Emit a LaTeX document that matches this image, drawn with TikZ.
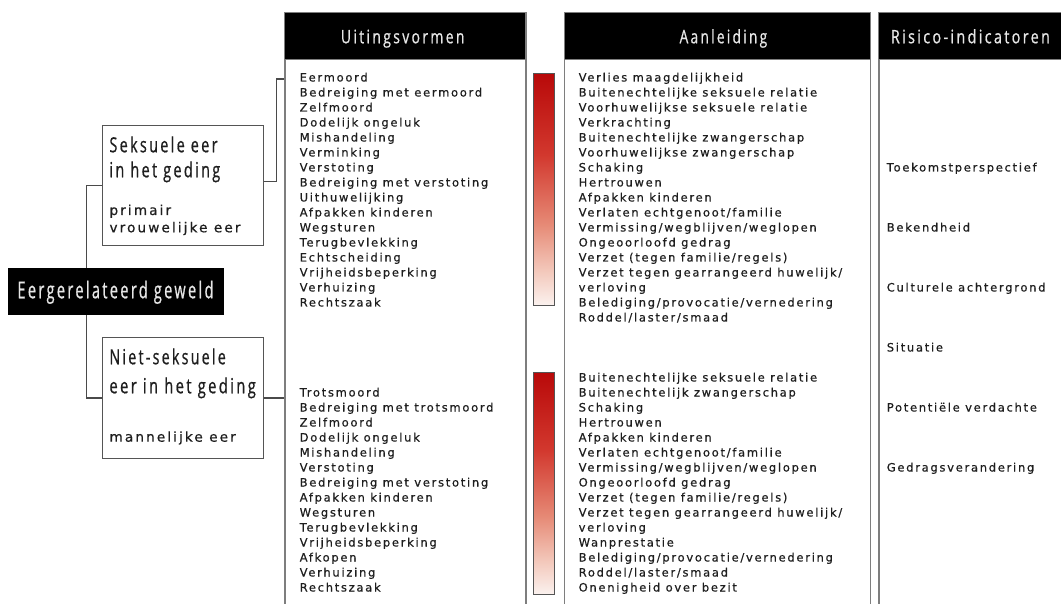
\documentclass[tikz,border=0pt]{standalone}
\usepackage{fontspec}
\usepackage{graphicx}
\newfontfamily\bodyfont[LetterSpace=15,FakeBold=0.5]{DejaVu Sans}
\newfontfamily\hdrfont[FakeStretch=0.55,LetterSpace=9,FakeBold=0.6]{Open Sans}
\definecolor{colgray}{HTML}{7E7E7E}
\definecolor{conngray}{HTML}{4A4A4A}
\definecolor{boxgray}{HTML}{555555}
\definecolor{txt}{HTML}{1E1E1E}
\definecolor{hdrtxt}{HTML}{E6E6E6}
\definecolor{barC0}{HTML}{FBF2EF}
\definecolor{barC1}{HTML}{F3C8BB}
\definecolor{barC2}{HTML}{E68A76}
\definecolor{barC3}{HTML}{D2382E}
\definecolor{barC4}{HTML}{B80909}
\pgfdeclareverticalshading{redbar}{100bp}{color(0bp)=(barC0); color(25bp)=(barC0); color(32.5bp)=(barC1); color(42.5bp)=(barC2); color(57.5bp)=(barC3); color(75bp)=(barC4); color(100bp)=(barC4)}
\newcommand\fitw[3]{\resizebox{#1pt}{\height}{\hdrfont\fontsize{#2}{#2}\selectfont #3}}
\tikzset{
  colbox/.style={draw=colgray, line width=1.5pt, fill=white, inner sep=0pt, anchor=north west},
  hdrbox/.style={fill=black, draw=colgray, line width=0.8pt, inner sep=0pt, anchor=north west},
  catbox/.style={draw=boxgray, line width=1.4pt, fill=white, inner sep=0pt, anchor=north west},
  bar/.style={draw=boxgray, line width=1pt, shading=redbar, inner sep=0pt, anchor=north west},
  hdrtext/.style={text=hdrtxt, inner sep=0pt, anchor=base west},
  cattext/.style={text=txt, inner sep=0pt, anchor=base west},
  subtext/.style={text=txt, inner sep=0pt, anchor=base west, font=\bodyfont\fontsize{13.7}{13.7}\selectfont},
  item/.style={text=txt, inner sep=0pt, anchor=base west, font=\bodyfont\fontsize{11.5}{11.5}\selectfont},
  conn/.style={draw=conngray, line width=1.3pt}
}
\begin{document}
\begin{tikzpicture}[x=1pt,y=-1pt]
\useasboundingbox (0,0) rectangle (1061,604);
\clip (0,0) rectangle (1061,604);
\fill[white] (0,0) rectangle (1061,604);

% columns
\node[colbox, minimum width=241pt, minimum height=620pt] (ucol) at (284,12.5) {};
\node[colbox, minimum width=306pt, minimum height=620pt] (acol) at (563.5,12.5) {};
\node[colbox, minimum width=200pt, minimum height=620pt] (rcol) at (878,12.5) {};

% headers
\node[hdrbox, minimum width=241pt, minimum height=46.5pt] (uh) at (284,12.5) {};
\node[hdrbox, minimum width=306pt, minimum height=46.5pt] (ah) at (563.5,12.5) {};
\node[hdrbox, minimum width=200pt, minimum height=46.5pt] (rh) at (878,12.5) {};
\node[hdrtext] (uht) at (340.7,43.3) {\fitw{123.6}{18.6}{Uitingsvormen}};
\node[hdrtext] (aht) at (679.4,43.3) {\fitw{87.6}{18.6}{Aanleiding}};
\node[hdrtext] (rht) at (890.7,43.3) {\fitw{159}{18.6}{Risico-indicatoren}};

% gradient bars
\node[bar, minimum width=21.7pt, minimum height=232pt] (bar1) at (532.7,73) {};
\node[bar, minimum width=21.7pt, minimum height=222.3pt] (bar2) at (532.7,371.7) {};

% category boxes
\node[catbox, minimum width=161pt, minimum height=120pt] (sek) at (101.7,125) {};
\node[catbox, minimum width=161pt, minimum height=121pt] (niet) at (101.7,336.7) {};
\node[fill=black, inner sep=0pt, anchor=north west, minimum width=216pt, minimum height=47pt] (eg) at (7.6,268) {};

\node[cattext] (sek1) at (109.3,152.3) {\fitw{108}{20.9}{Seksuele eer}};
\node[cattext] (sek2) at (109.3,177.3) {\fitw{110.7}{20.9}{in het geding}};
\node[subtext] (sek3) at (109.3,215) {primair};
\node[subtext] (sek4) at (109.3,232.3) {vrouwelijke eer};
\node[cattext] (niet1) at (109.3,364.3) {\fitw{116.3}{20.9}{Niet-seksuele}};
\node[cattext] (niet2) at (109.3,393.3) {\fitw{146.3}{20.9}{eer in het geding}};
\node[subtext] (niet3) at (109.3,441.7) {mannelijke eer};
\node[hdrtext] (egt) at (17.3,298.3) {\fitw{196}{23.3}{Eergerelateerd geweld}};

% connectors
\coordinate (trunk) at (86.7,0);
\draw[conn] (eg.north -| trunk) |- (sek.west);
\draw[conn] (eg.south -| trunk) |- (niet.west);
\draw[conn] ([yshift=4pt]sek.east) -- ++(12.3,0) |- (ucol.west |- 0,79);
\draw[conn] (niet.east) -- (niet.east -| ucol.west);

% Uitingsvormen lists
\foreach \t [count=\i from 0] in {Eermoord, Bedreiging met eermoord, Zelfmoord, Dodelijk ongeluk, Mishandeling, Verminking, Verstoting, Bedreiging met verstoting, Uithuwelijking, Afpakken kinderen, Wegsturen, Terugbevlekking, Echtscheiding, Vrijheidsbeperking, Verhuizing, Rechtszaak}
  \node[item] (ua\i) at (299.5,81.5+15*\i) {\t};
\foreach \t [count=\i from 0] in {Trotsmoord, Bedreiging met trotsmoord, Zelfmoord, Dodelijk ongeluk, Mishandeling, Verstoting, Bedreiging met verstoting, Afpakken kinderen, Wegsturen, Terugbevlekking, Vrijheidsbeperking, Afkopen, Verhuizing, Rechtszaak}
  \node[item] (ub\i) at (299.5,396.5+15*\i) {\t};

% Aanleiding lists
\foreach \t [count=\i from 0] in {Verlies maagdelijkheid, Buitenechtelijke seksuele relatie, Voorhuwelijkse seksuele relatie, Verkrachting, Buitenechtelijke zwangerschap, Voorhuwelijkse zwangerschap, Schaking, Hertrouwen, Afpakken kinderen, {Verlaten echtgenoot/familie}, {Vermissing/wegblijven/weglopen}, Ongeoorloofd gedrag, {Verzet (tegen familie/regels)}, {Verzet tegen gearrangeerd huwelijk/}, verloving, {Belediging/provocatie/vernedering}, {Roddel/laster/smaad}}
  \node[item] (aa\i) at (578.5,81.5+15*\i) {\t};
\foreach \t [count=\i from 0] in {Buitenechtelijke seksuele relatie, Buitenechtelijk zwangerschap, Schaking, Hertrouwen, Afpakken kinderen, {Verlaten echtgenoot/familie}, {Vermissing/wegblijven/weglopen}, Ongeoorloofd gedrag, {Verzet (tegen familie/regels)}, {Verzet tegen gearrangeerd huwelijk/}, verloving, Wanprestatie, {Belediging/provocatie/vernedering}, {Roddel/laster/smaad}, Onenigheid over bezit}
  \node[item] (ab\i) at (578.5,381.5+15*\i) {\t};

% Risico-indicatoren
\foreach \t [count=\i from 0] in {Toekomstperspectief, Bekendheid, Culturele achtergrond, Situatie, Potentiële verdachte, Gedragsverandering}
  \node[item] (ri\i) at (886.6,171.5+60*\i) {\t};
\end{tikzpicture}
\end{document}
